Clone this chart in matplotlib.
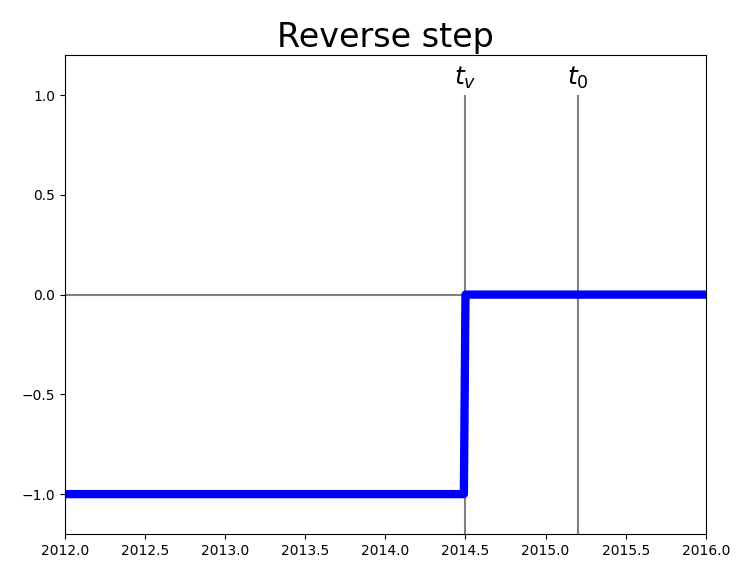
import numpy as np
import matplotlib.pyplot as plt

# step data
t = [2012.0, 2014.49, 2014.5, 2016.0]
y = [-1.0, -1.0, 0.0, 0.0]
t_v = 2014.5
t_0 = 2015.2
marks = [(t_v, r'$t_v$'), (t_0, r'$t_0$')]

fig = plt.figure(figsize=(7.39, 5.69), dpi=100)
ax = fig.add_axes([0.088, 0.0615, 0.867, 0.8415])

ax.axhline(0, color='gray', lw=1.5, zorder=1)
for x, lab in marks:
    ax.vlines(x, -1.2, 1.0, color='gray', lw=1.5, zorder=1)
    ax.text(x, 1.02, lab, ha='center', va='bottom', fontsize=18)

ax.plot(t, y, color='blue', lw=6, zorder=2)

ax.set_xlim(2012, 2016)
ax.set_ylim(-1.2, 1.2)
ax.set_xticks(np.arange(2012, 2016.01, 0.5))
ax.set_xticklabels(['%.1f' % v for v in np.arange(2012, 2016.01, 0.5)])
ax.set_yticks([-1.0, -0.5, 0.0, 0.5, 1.0])
ax.set_title('Reverse step', fontsize=24)

fig.savefig('out.png', dpi=100)
